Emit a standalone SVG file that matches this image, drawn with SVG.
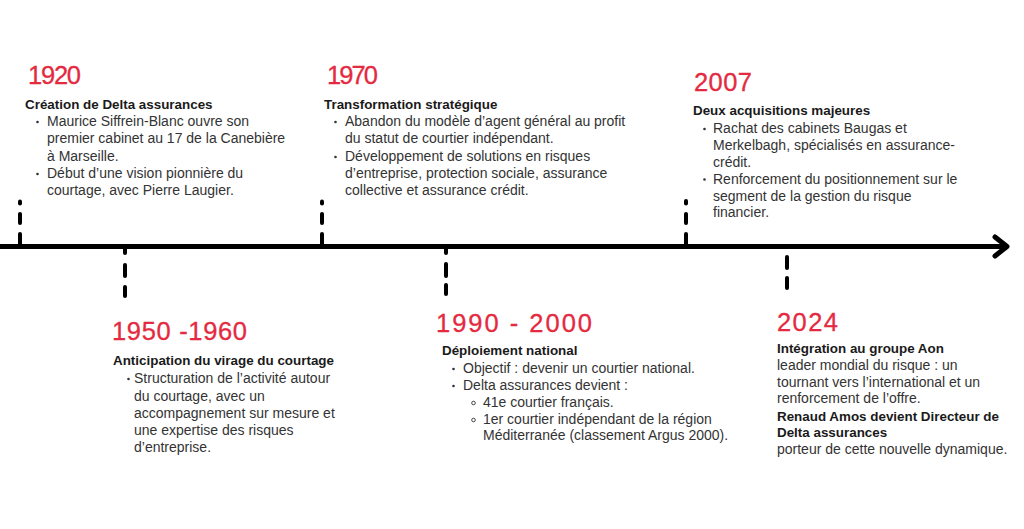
<svg xmlns="http://www.w3.org/2000/svg" width="1024" height="529" viewBox="0 0 1024 529">
<style>
.yr{font-family:"Liberation Sans",Arial,sans-serif;font-size:25.5px;fill:#E42A41;stroke:#E42A41;stroke-width:0.3}
.hd{font-family:"Liberation Sans",Arial,sans-serif;font-size:13.4px;font-weight:bold;fill:#1a1a1a}
.tx{font-family:"Liberation Sans",Arial,sans-serif;font-size:14px;fill:#333}
.dot{fill:#333}
.sub{fill:none;stroke:#333;stroke-width:0.9}
.tk{stroke:#000;stroke-width:4;stroke-linecap:round;fill:none}
.ax{stroke:#000;stroke-width:5;stroke-linecap:round;stroke-linejoin:round;fill:none}
</style>
<rect width="1024" height="529" fill="#fff"/>
<g id="connectors">
<line class="ax" x1="-5" y1="246.5" x2="1006" y2="246.5"/>
<path class="ax" d="M995,237 L1007,246.5 L995,256"/>
<g id="tick-1920"><line class="tk" x1="20" y1="201.5" x2="20" y2="203.5"/><line class="tk" x1="20" y1="214" x2="20" y2="223"/><line class="tk" x1="20" y1="234" x2="20" y2="246"/></g>
<g id="tick-1970"><line class="tk" x1="322" y1="201.5" x2="322" y2="203.5"/><line class="tk" x1="322" y1="214" x2="322" y2="223"/><line class="tk" x1="322" y1="234" x2="322" y2="246"/></g>
<g id="tick-2007"><line class="tk" x1="686" y1="201" x2="686" y2="203.5"/><line class="tk" x1="686" y1="214" x2="686" y2="223"/><line class="tk" x1="686" y1="234" x2="686" y2="246"/></g>
<g id="tick-1950"><line class="tk" x1="125" y1="247" x2="125" y2="253"/><line class="tk" x1="125" y1="265" x2="125" y2="276"/><line class="tk" x1="125" y1="287" x2="125" y2="296"/></g>
<g id="tick-1990"><line class="tk" x1="446" y1="247" x2="446" y2="253"/><line class="tk" x1="446" y1="264" x2="446" y2="276"/><line class="tk" x1="446" y1="285" x2="446" y2="294"/></g>
<g id="tick-2024"><line class="tk" x1="787" y1="257" x2="787" y2="268"/><line class="tk" x1="787" y1="278" x2="787" y2="288"/></g>
</g>
<g id="node-1920">
<text class="yr" x="28" y="84" textLength="53" lengthAdjust="spacing">1920</text>
<text class="hd" x="25" y="109">Création de Delta assurances</text>
<circle class="dot" cx="37.5" cy="122" r="1.3"/>
<text class="tx" x="47" y="126">Maurice Siffrein-Blanc ouvre son</text>
<text class="tx" x="47" y="143">premier cabinet au 17 de la Canebière</text>
<text class="tx" x="47" y="161">à Marseille.</text>
<circle class="dot" cx="37.5" cy="174" r="1.3"/>
<text class="tx" x="47" y="178">Début d’une vision pionnière du</text>
<text class="tx" x="47" y="195">courtage, avec Pierre Laugier.</text>
</g>
<g id="node-1970">
<text class="yr" x="327" y="84" textLength="51" lengthAdjust="spacing">1970</text>
<text class="hd" x="324" y="109">Transformation stratégique</text>
<circle class="dot" cx="335.5" cy="122" r="1.3"/>
<text class="tx" x="345" y="126">Abandon du modèle d’agent général au profit</text>
<text class="tx" x="345" y="143">du statut de courtier indépendant.</text>
<circle class="dot" cx="335.5" cy="157" r="1.3"/>
<text class="tx" x="345" y="161">Développement de solutions en risques</text>
<text class="tx" x="345" y="178">d’entreprise, protection sociale, assurance</text>
<text class="tx" x="345" y="195">collective et assurance crédit.</text>
</g>
<g id="node-2007">
<text class="yr" x="694" y="91" textLength="58" lengthAdjust="spacing">2007</text>
<text class="hd" x="693" y="115">Deux acquisitions majeures</text>
<circle class="dot" cx="704.5" cy="129" r="1.3"/>
<text class="tx" x="713" y="133">Rachat des cabinets Baugas et</text>
<text class="tx" x="713" y="150">Merkelbagh, spécialisés en assurance-</text>
<text class="tx" x="713" y="167">crédit.</text>
<circle class="dot" cx="704.5" cy="179.5" r="1.3"/>
<text class="tx" x="713" y="183.5">Renforcement du positionnement sur le</text>
<text class="tx" x="713" y="200.5">segment de la gestion du risque</text>
<text class="tx" x="713" y="217">financier.</text>
</g>
<g id="node-1950">
<text class="yr" x="112" y="340" textLength="135" lengthAdjust="spacing">1950 -1960</text>
<text class="hd" x="113" y="365">Anticipation du virage du courtage</text>
<circle class="dot" cx="128.5" cy="379" r="1.3"/>
<text class="tx" x="134" y="383">Structuration de l’activité autour</text>
<text class="tx" x="134" y="401">du courtage, avec un</text>
<text class="tx" x="134" y="418">accompagnement sur mesure et</text>
<text class="tx" x="134" y="435">une expertise des risques</text>
<text class="tx" x="134" y="452">d’entreprise.</text>
</g>
<g id="node-1990">
<text class="yr" x="436" y="332" textLength="156" lengthAdjust="spacing">1990 - 2000</text>
<text class="hd" x="442" y="355">Déploiement national</text>
<circle class="dot" cx="453.5" cy="369" r="1.3"/>
<text class="tx" x="463" y="373">Objectif : devenir un courtier national.</text>
<circle class="dot" cx="453.5" cy="386" r="1.3"/>
<text class="tx" x="463" y="390">Delta assurances devient :</text>
<circle class="sub" cx="473.5" cy="403" r="1.8"/>
<text class="tx" x="483" y="407">41e courtier français.</text>
<circle class="sub" cx="473.5" cy="420" r="1.8"/>
<text class="tx" x="483" y="424">1er courtier indépendant de la région</text>
<text class="tx" x="483" y="440">Méditerranée (classement Argus 2000).</text>
</g>
<g id="node-2024">
<text class="yr" x="777" y="331" textLength="61" lengthAdjust="spacing">2024</text>
<text class="hd" x="777" y="353">Intégration au groupe Aon</text>
<text class="tx" x="777" y="370">leader mondial du risque : un</text>
<text class="tx" x="777" y="387">tournant vers l’international et un</text>
<text class="tx" x="777" y="403">renforcement de l’offre.</text>
<text class="hd" x="777" y="421">Renaud Amos devient Directeur de</text>
<text class="hd" x="777" y="437">Delta assurances</text>
<text class="tx" x="777" y="454">porteur de cette nouvelle dynamique.</text>
</g>
</svg>
